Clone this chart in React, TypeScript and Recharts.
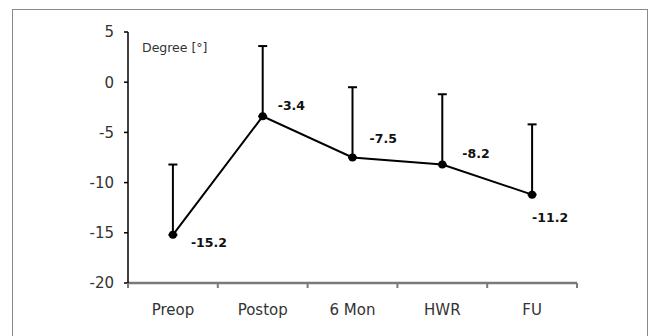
import React from "react";
import {
  LineChart,
  Line,
  XAxis,
  YAxis,
  ErrorBar,
  LabelList,
} from "recharts";

const categories = ["Preop", "Postop", "6 Mon", "HWR", "FU"];
const means = [-15.2, -3.4, -7.5, -8.2, -11.2];
const sdUpper = [7.0, 7.0, 7.0, 7.0, 7.0];
const yTicks = [-20, -15, -10, -5, 0, 5];

// where each value label sits relative to its point
const labelOffsets = [
  [18, 8],
  [15, -11],
  [17, -19],
  [20, -11],
  [0, 23],
];

const data = categories.map((name, i) => ({
  name,
  mean: means[i],
  err: [0, sdUpper[i]],
}));

const FONT = "'DejaVu Sans', Verdana, sans-serif";

function CategoryTick(props: any) {
  const { x, y, payload, index, visibleTicksCount } = props;
  const half = payload.offset || 45;
  return (
    <g>
      <line x1={x - half} x2={x - half} y1={y} y2={y + 5} stroke="#7a7a7a" strokeWidth={2} />
      {index === visibleTicksCount - 1 && (
        <line x1={x + half} x2={x + half} y1={y} y2={y + 5} stroke="#7a7a7a" strokeWidth={2} />
      )}
      <text x={x} y={y + 32} textAnchor="middle" fontSize={15} fill="#333" fontFamily={FONT}>
        {payload.value}
      </text>
    </g>
  );
}

function ValueLabel(props: any) {
  const { x, y, value, index } = props;
  const [dx, dy] = labelOffsets[index] || [0, 0];
  return (
    <text
      x={x + dx}
      y={y + dy}
      dominantBaseline="central"
      fontSize={12.5}
      fontWeight="bold"
      fill="#111"
      fontFamily={FONT}
    >
      {value}
    </text>
  );
}

export default function App() {
  return (
    <div style={{ position: "relative", width: 653, height: 336, background: "#fff", overflow: "hidden" }}>
      <style>{"body{margin:0}"}</style>
      <div
        style={{
          position: "absolute",
          left: 12,
          top: 9,
          width: 636,
          height: 340,
          border: "1.5px solid #8a8a8a",
          boxSizing: "border-box",
        }}
      />
      <div
        style={{
          position: "absolute",
          left: 142,
          top: 40,
          fontSize: 12.5,
          color: "#333",
          fontFamily: FONT,
        }}
      >
        Degree [°]
      </div>
      <div style={{ position: "absolute", left: 0, top: 0 }}>
        <LineChart width={653} height={336} data={data} margin={{ top: 32, right: 76, left: 88, bottom: 23 }}>
          <XAxis
            dataKey="name"
            scale="band"
            axisLine={{ stroke: "#7a7a7a", strokeWidth: 2.5 }}
            tickLine={false}
            tickSize={0}
            tickMargin={0}
            height={30}
            tick={<CategoryTick />}
            interval={0}
          />
          <YAxis
            type="number"
            domain={[-20, 5]}
            ticks={yTicks}
            width={40}
            axisLine={{ stroke: "#000", strokeWidth: 1.5 }}
            tickLine={{ stroke: "#000", strokeWidth: 1.5 }}
            tickSize={4}
            tickMargin={10}
            tick={{ fontSize: 15, fill: "#333", fontFamily: FONT }}
          />
          <Line
            dataKey="mean"
            stroke="#000"
            strokeWidth={2}
            dot={{ r: 4, fill: "#000", stroke: "#000", strokeWidth: 0 }}
            activeDot={false}
            isAnimationActive={false}
          >
            <ErrorBar dataKey="err" direction="y" width={4.5} stroke="#000" strokeWidth={2} isAnimationActive={false} />
            <LabelList dataKey="mean" content={<ValueLabel />} />
          </Line>
        </LineChart>
      </div>
    </div>
  );
}
